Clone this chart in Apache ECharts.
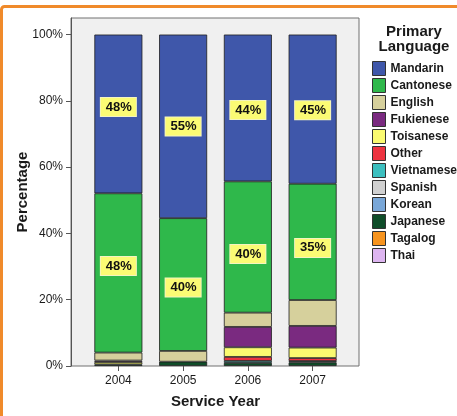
<!DOCTYPE html>
<html>
<head>
<meta charset="utf-8">
<style>
  html, body { margin: 0; padding: 0; background: #ffffff; }
  #chart { width: 457px; height: 416px; }
</style>
<script src="https://cdn.jsdelivr.net/npm/echarts@6/dist/echarts.min.js"></script>
</head>
<body>
<div id="chart"></div>
<script>
// Service years (categories of the stacked bars)
const years = ['2004', '2005', '2006', '2007'];
// Percentage axis tick values
const yTicks = [0, 20, 40, 60, 80, 100];

// Legend order (top of legend = top of stack)
const languages = ['Mandarin', 'Cantonese', 'English', 'Fukienese', 'Toisanese', 'Other',
                   'Vietnamese', 'Spanish', 'Korean', 'Japanese', 'Tagalog', 'Thai'];

// Share of clients (%) per year
const mandarin   = [47.9, 55.4, 44.3, 45.0];
const cantonese  = [48.05, 40.05, 39.6, 35.1];
const english    = [2.4, 3.25, 4.3, 7.8];
const fukienese  = [0.45, 0, 6.15, 6.55];
const toisanese  = [0.7, 0, 2.9, 3.15];
const other      = [0, 0, 1.2, 0.9];
const vietnamese = [0, 0, 0.6, 0.4];
const spanish    = [0, 0, 0, 0];
const korean     = [0, 0, 0, 0];
const japanese   = [0.5, 1.3, 0.95, 1.1];
const tagalog    = [0, 0, 0, 0];
const thai       = [0, 0, 0, 0];

const valuesByLanguage = {
  Mandarin: mandarin, Cantonese: cantonese, English: english, Fukienese: fukienese,
  Toisanese: toisanese, Other: other, Vietnamese: vietnamese, Spanish: spanish,
  Korean: korean, Japanese: japanese, Tagalog: tagalog, Thai: thai
};

const colors = {
  Mandarin: '#3f57aa', Cantonese: '#2fb84b', English: '#d6d09c', Fukienese: '#7a2a80',
  Toisanese: '#fafa70', Other: '#ee3340', Vietnamese: '#3cbfbf', Spanish: '#d0d0d0',
  Korean: '#79a7d8', Japanese: '#0f4d29', Tagalog: '#f7941e', Thai: '#ddb5f0'
};

// Series that carry percentage labels, with small vertical nudges (px) per year
const labelNudge = {
  Mandarin:  [-7, 0, 2, 1],
  Cantonese: [-7, 3, 7, 6]
};

const FONT = 'Arial, "Liberation Sans", Helvetica, sans-serif';
const Y_MAX = 105;

const labelStyle = {
  position: 'inside',
  formatter: p => Math.round(p.value) + '%',
  fontFamily: FONT,
  fontSize: 13,
  fontWeight: 'bold',
  color: '#111',
  backgroundColor: '#fbfb74',
  borderColor: '#f4f4c0',
  borderWidth: 1,
  padding: [3, 4, 2, 5]
};

// Bottom of stack is the last legend entry, so build series in reverse
const series = languages.slice().reverse().map(name => {
  const vals = valuesByLanguage[name];
  const nudge = labelNudge[name];
  return {
    name: name,
    type: 'bar',
    stack: 'total',
    xAxisIndex: 1,
    yAxisIndex: 1,
    barWidth: 48,
    itemStyle: { color: colors[name], borderColor: '#1e1e1e', borderWidth: 0.8 },
    label: Object.assign({ show: !!nudge }, labelStyle),
    data: vals.map((v, i) => {
      const item = { value: v };
      if (v === 0) item.itemStyle = { borderWidth: 0 };
      if (nudge) item.label = { offset: [0, nudge[i]] };
      return item;
    })
  };
});

const chart = echarts.init(document.getElementById('chart'), null, { renderer: 'canvas' });

chart.setOption({
  animation: false,
  backgroundColor: '#ffffff',
  textStyle: { fontFamily: FONT },
  grid: [
    // Outer plot frame: grey panel with the percentage axis
    {
      left: 71, right: 98, top: 18, bottom: 50,
      show: true,
      backgroundColor: '#f0f0f0',
      borderColor: '#707070',
      borderWidth: 1
    },
    // Inner band holding the four bars
    { left: 86, right: 112, top: 18, bottom: 50, show: false }
  ],
  xAxis: [
    { gridIndex: 0, type: 'value', min: 0, max: 1, show: false },
    {
      gridIndex: 1,
      type: 'category',
      data: years,
      name: 'Service Year',
      nameLocation: 'middle',
      nameGap: 28,
      nameMoveOverlap: false,
      nameTextStyle: { fontFamily: FONT, fontSize: 15, fontWeight: 'bold', color: '#1a1a1a' },
      splitLine: { show: false },
      axisLine: { show: false },
      axisTick: { show: true, length: 5, alignWithLabel: true, lineStyle: { color: '#555' } },
      axisLabel: { margin: 9, fontFamily: FONT, fontSize: 12, color: '#1a1a1a' }
    }
  ],
  yAxis: [
    {
      gridIndex: 0,
      type: 'value',
      min: 0,
      max: Y_MAX,
      name: 'Percentage',
      nameLocation: 'middle',
      nameGap: 41,
      nameMoveOverlap: false,
      nameTextStyle: { fontFamily: FONT, fontSize: 15, fontWeight: 'bold', color: '#1a1a1a' },
      splitLine: { show: false },
      axisLine: { show: true, lineStyle: { color: '#555', width: 1 } },
      axisTick: { show: true, length: 5, customValues: yTicks, lineStyle: { color: '#555' } },
      axisLabel: {
        customValues: yTicks,
        formatter: v => v + '%',
        margin: 8,
        fontFamily: FONT, fontSize: 12, color: '#1a1a1a'
      }
    },
    { gridIndex: 1, type: 'value', min: 0, max: Y_MAX, show: false }
  ],
  legend: {
    data: languages,
    orient: 'vertical',
    left: 372,
    top: 61,
    padding: 0,
    icon: 'rect',
    itemWidth: 13,
    itemHeight: 14,
    itemGap: 2,
    selectedMode: false,
    itemStyle: { borderColor: '#333', borderWidth: 1 },
    textStyle: { fontFamily: FONT, fontSize: 12, fontWeight: 'bold', color: '#1a1a1a', lineHeight: 14 }
  },
  graphic: [
    {
      type: 'rect',
      silent: true,
      z: 100,
      shape: { x: 1.5, y: 6.5, width: 480, height: 440, r: 3 },
      style: { fill: 'none', stroke: '#f08a2a', lineWidth: 3 }
    },
    {
      type: 'text',
      x: 414,
      y: 25,
      style: {
        text: 'Primary\nLanguage',
        fontFamily: FONT,
        fontSize: 15,
        fontWeight: 'bold',
        fill: '#1a1a1a',
        align: 'center',
        verticalAlign: 'top',
        lineHeight: 14.5
      }
    }
  ],
  series: series
});
</script>
</body>
</html>
